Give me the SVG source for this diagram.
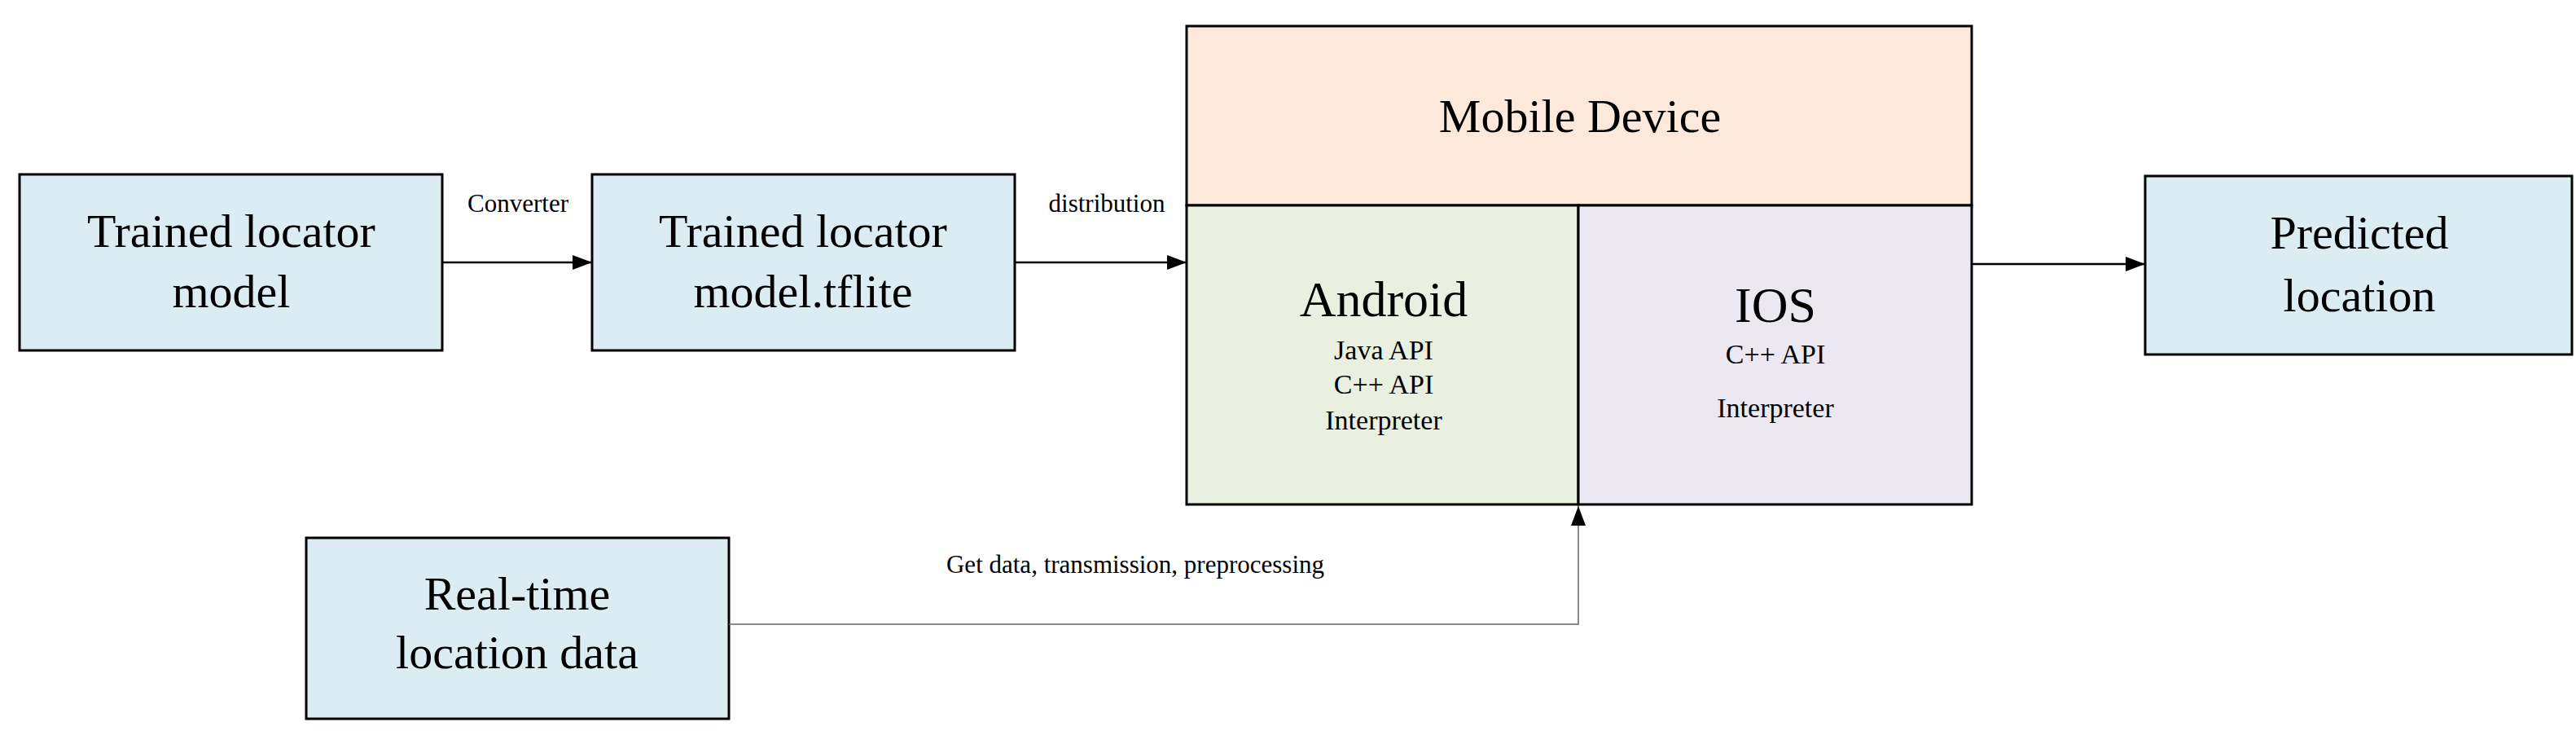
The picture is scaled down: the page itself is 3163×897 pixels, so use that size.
<svg xmlns="http://www.w3.org/2000/svg" width="3163" height="897" viewBox="0 0 3163 897">
<style>
.b{fill:#dbedf3;stroke:#000;stroke-width:3}
.m{stroke:#000;stroke-width:3}
text{font-family:"Liberation Serif",serif;fill:#000;text-anchor:middle}
.big{font-size:58px}
.sm{font-size:34px}
.lb{font-size:31px}
.c{stroke:#000;stroke-width:2.5;fill:none}
</style>
<defs><marker id="a" markerWidth="10" markerHeight="8" refX="10" refY="4" orient="auto" markerUnits="userSpaceOnUse"><path d="M0,0L10,4L0,8z" fill="#000"/></marker>
<marker id="a2" markerWidth="24" markerHeight="18" refX="24" refY="9" orient="auto" markerUnits="userSpaceOnUse"><path d="M0,0L24,9L0,18z" fill="#000"/></marker></defs>
<g id="n1"><rect class="b" x="24" y="214" width="519" height="216"/><text class="big" x="284" y="303">Trained locator</text><text class="big" x="284" y="377">model</text></g>
<g id="n2"><rect class="b" x="727" y="214" width="519" height="216"/><text class="big" x="986" y="303">Trained locator</text><text class="big" x="986" y="377">model.tflite</text></g>
<g id="mobile"><rect x="1457" y="32" width="964" height="220" fill="#fce9dc" class="m"/><text class="big" x="1940" y="162">Mobile Device</text></g>
<g id="android"><rect x="1457" y="252" width="481" height="367" fill="#e9f0df" class="m"/><text x="1699" y="388" style="font-size:62px">Android</text><text class="sm" x="1699" y="441">Java API</text><text class="sm" x="1699" y="483">C++ API</text><text class="sm" x="1699" y="527">Interpreter</text></g>
<g id="ios"><rect x="1938" y="252" width="483" height="367" fill="#ebe8f1" class="m"/><text x="2180" y="395" style="font-size:62px">IOS</text><text class="sm" x="2180" y="446">C++ API</text><text class="sm" x="2180" y="512">Interpreter</text></g>
<g id="pred"><rect class="b" x="2634" y="216" width="524" height="219"/><text class="big" x="2897" y="305">Predicted</text><text class="big" x="2897" y="382">location</text></g>
<g id="rt"><rect class="b" x="376" y="660" width="519" height="222"/><text class="big" x="635" y="748">Real-time</text><text class="big" x="635" y="820">location data</text></g>
<g id="connectors">
<line class="c" x1="543" y1="322" x2="727" y2="322" marker-end="url(#a2)"/>
<line class="c" x1="1246" y1="322" x2="1457" y2="322" marker-end="url(#a2)"/>
<line class="c" x1="2421" y1="324" x2="2634" y2="324" marker-end="url(#a2)"/>
<path d="M895,766H1938V621" fill="none" stroke="#666" stroke-width="1.5" marker-end="url(#a2)"/>
<text class="lb" x="636" y="260">Converter</text>
<text class="lb" x="1359" y="260">distribution</text>
<text class="lb" x="1394" y="703">Get data, transmission, preprocessing</text>
</g>
</svg>
